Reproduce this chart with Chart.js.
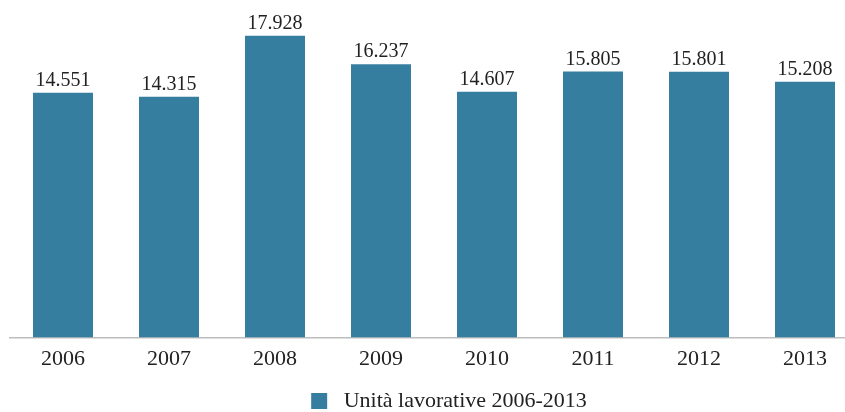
<!DOCTYPE html>
<html>
<head>
<meta charset="utf-8">
<script src="https://cdn.jsdelivr.net/npm/chart.js@4/dist/chart.umd.min.js"></script>
<style>
  html, body { margin: 0; padding: 0; background: #fff; overflow: hidden; }
  #wrap { position: relative; width: 860px; height: 412px; }
</style>
</head>
<body>
<div id="wrap"><canvas id="c"></canvas></div>
<script>
const years = ['2006', '2007', '2008', '2009', '2010', '2011', '2012', '2013'];
const units = [14551, 14315, 17928, 16237, 14607, 15805, 15801, 15208];
const seriesLabel = 'Unità lavorative 2006-2013';

const barColor = '#367ea0';
const textColor = '#222222';
const serif = '"Liberation Serif", "Times New Roman", serif';

// Italian thousands separator: 14551 -> "14.551"
function fmt(v) {
  return String(v).replace(/\B(?=(\d{3})+(?!\d))/g, '.');
}

// value printed above each bar
const valueLabels = {
  id: 'valueLabels',
  afterDatasetsDraw(chart) {
    const ctx = chart.ctx;
    const meta = chart.getDatasetMeta(0);
    ctx.save();
    ctx.font = '20px ' + serif;
    ctx.fillStyle = textColor;
    ctx.textAlign = 'center';
    ctx.textBaseline = 'alphabetic';
    meta.data.forEach((bar, i) => {
      ctx.fillText(fmt(chart.data.datasets[0].data[i]), bar.x, bar.y - 7);
    });
    ctx.restore();
  }
};

// move the legend slightly right and down
const legendShift = {
  id: 'legendShift',
  afterLayout(chart) {
    const lg = chart.legend;
    if (lg) {
      lg.left += 15;
      lg.right += 15;
      lg.top += 10;
      lg.bottom += 10;
    }
  }
};

new Chart(document.getElementById('c'), {
  type: 'bar',
  data: {
    labels: years,
    datasets: [{
      label: seriesLabel,
      data: units,
      backgroundColor: barColor,
      borderWidth: 0,
      categoryPercentage: 1,
      barPercentage: 0.566
    }]
  },
  options: {
    responsive: true,
    maintainAspectRatio: false,
    animation: false,
    layout: { padding: { left: 10, right: 2, top: 1, bottom: 0 } },
    scales: {
      x: {
        grid: { display: false },
        border: { display: true, color: '#bdbdbd', width: 1.5 },
        ticks: { color: textColor, font: { family: serif, size: 22 }, padding: 0 },
        afterFit(scale) { scale.height += 7; }
      },
      y: {
        display: false,
        min: 0,
        max: 20000
      }
    },
    plugins: {
      legend: {
        position: 'bottom',
        labels: {
          color: textColor,
          font: { family: serif, size: 22 },
          boxWidth: 16,
          boxHeight: 16,
          padding: 1,
          generateLabels(chart) {
            const items = Chart.defaults.plugins.legend.labels.generateLabels(chart);
            items.forEach(it => { it.text = ' ' + it.text; });
            return items;
          }
        }
      },
      tooltip: { enabled: false }
    }
  },
  plugins: [valueLabels, legendShift]
});
</script>
</body>
</html>
